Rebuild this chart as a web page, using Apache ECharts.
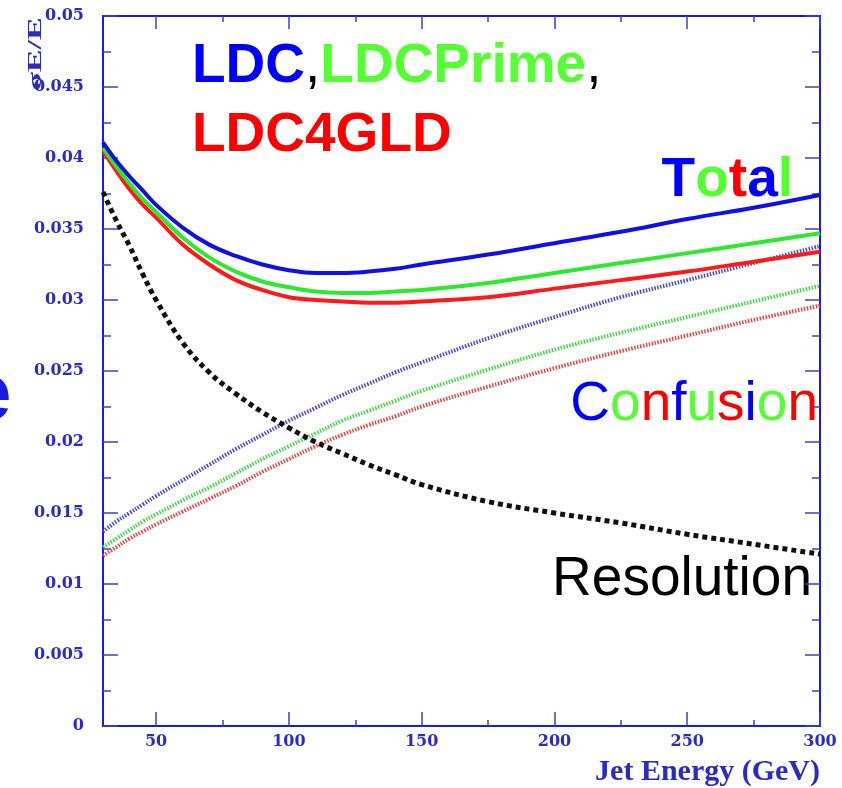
<!DOCTYPE html>
<html>
<head>
<meta charset="utf-8">
<script src="https://cdn.jsdelivr.net/npm/echarts@6/dist/echarts.min.js"></script>
<style>
  html, body { margin: 0; padding: 0; background: #ffffff; }
  #chart { width: 842px; height: 788px; }
</style>
</head>
<body>
<div id="chart"></div>
<script>
// Jet energy grid (GeV)
const energies = [30, 35, 40, 45, 50, 60, 70, 80, 90, 100, 110, 120, 130, 140, 150, 175, 200, 225, 250, 275, 300];

// Total jet energy resolution sigma_E/E for the three detector models
const totalLDC      = [0.0411, 0.0398, 0.0387, 0.0377, 0.0367, 0.0351, 0.0339, 0.0331, 0.0325, 0.0321, 0.0319, 0.0319, 0.0320, 0.0322, 0.0325, 0.0332, 0.0340, 0.0348, 0.0357, 0.0365, 0.0374];
const totalLDCPrime = [0.0407, 0.0394, 0.0382, 0.0371, 0.0362, 0.0344, 0.0330, 0.0320, 0.0313, 0.0309, 0.0306, 0.0305, 0.0305, 0.0306, 0.0307, 0.0312, 0.0319, 0.0326, 0.0333, 0.0340, 0.0347];
const totalLDC4GLD  = [0.0405, 0.0391, 0.0378, 0.0367, 0.0358, 0.0339, 0.0325, 0.0314, 0.0307, 0.0302, 0.0300, 0.0299, 0.0298, 0.0298, 0.0299, 0.0302, 0.0308, 0.0314, 0.0320, 0.0327, 0.0334];

// Confusion term
const confLDC      = [0.0137, 0.0144, 0.0150, 0.0156, 0.0162, 0.0173, 0.0184, 0.0195, 0.0205, 0.0215, 0.0224, 0.0233, 0.0241, 0.0249, 0.0256, 0.0273, 0.0288, 0.0302, 0.0314, 0.0326, 0.0338];
const confLDCPrime = [0.0126, 0.0132, 0.0138, 0.0144, 0.0149, 0.0159, 0.0168, 0.0178, 0.0188, 0.0197, 0.0206, 0.0215, 0.0222, 0.0229, 0.0236, 0.0251, 0.0265, 0.0277, 0.0288, 0.0299, 0.0310];
const confLDC4GLD  = [0.0120, 0.0126, 0.0132, 0.0137, 0.0142, 0.0151, 0.0160, 0.0169, 0.0179, 0.0188, 0.0197, 0.0205, 0.0212, 0.0218, 0.0225, 0.0239, 0.0252, 0.0264, 0.0275, 0.0286, 0.0296];

// Intrinsic calorimeter resolution term
const resolution = [0.0376, 0.0356, 0.0338, 0.0318, 0.0300, 0.0270, 0.0249, 0.0234, 0.0221, 0.0210, 0.0200, 0.0192, 0.0184, 0.0177, 0.0170, 0.0158, 0.0150, 0.0143, 0.0135, 0.0128, 0.0121];

// Axis ticks
const xMajorTicks = [50, 100, 150, 200, 250, 300];
const xMinorTicks = [75, 125, 175, 225, 275];

const pairs = ys => energies.map((e, i) => [e, ys[i]]);

const AXIS_BLUE = '#1a1ae0';
const LABEL_BLUE = '#2a2ac8';
const TICK_COL = '#4040c0';
const LABEL_FONT = '"DejaVu Serif", serif';

function xAxisDef(pos, ticks, len, labels) {
  return {
    type: 'value', position: pos, min: 30, max: 300,
    axisLine: { show: true, onZero: false, lineStyle: { color: AXIS_BLUE, width: 2 } },
    axisTick: { show: true, inside: true, length: len, customValues: ticks, lineStyle: { color: TICK_COL, width: 1.5 } },
    axisLabel: labels ? {
      show: true, customValues: ticks, margin: 8, color: LABEL_BLUE,
      fontFamily: LABEL_FONT, fontWeight: 'bold', fontSize: 16
    } : { show: false },
    splitLine: { show: false }
  };
}

function yAxisDef(pos, labels) {
  return {
    type: 'value', position: pos, min: 0, max: 0.05, interval: 0.005,
    axisLine: { show: true, onZero: false, lineStyle: { color: AXIS_BLUE, width: 2 } },
    axisTick: { show: true, inside: true, length: 15, lineStyle: { color: TICK_COL, width: 1.5 } },
    minorTick: { show: true, splitNumber: 2, length: 8, lineStyle: { color: TICK_COL, width: 1.5 } },
    axisLabel: labels ? {
      show: true, margin: 19, color: LABEL_BLUE,
      fontFamily: LABEL_FONT, fontWeight: 'bold', fontSize: 16,
      formatter: v => v === 0 ? '0' : String(+v.toFixed(3))
    } : { show: false },
    splitLine: { show: false }
  };
}

function line(name, data, color, width, type) {
  return {
    name, type: 'line', data: pairs(data), xAxisIndex: 0, yAxisIndex: 0,
    smooth: 0.4, symbol: 'none', silent: true,
    lineStyle: { color, width, type, cap: 'butt' }
  };
}

const chart = echarts.init(document.getElementById('chart'), null, { renderer: 'canvas' });

const SANS = '"Liberation Sans", Arial, sans-serif';

chart.setOption({
  backgroundColor: '#ffffff',
  animation: false,
  grid: { left: 103, right: 22, top: 16, bottom: 62, containLabel: false },
  xAxis: [
    xAxisDef('bottom', xMajorTicks, 14, true),
    xAxisDef('bottom', xMinorTicks, 6, false),
    xAxisDef('top', xMajorTicks, 13, false),
    xAxisDef('top', xMinorTicks, 6, false)
  ],
  yAxis: [
    yAxisDef('left', true),
    yAxisDef('right', false)
  ],
  series: [
    line('Confusion LDC4GLD', confLDC4GLD, '#e04848', 4, [1.5, 1.5]),
    line('Confusion LDCPrime', confLDCPrime, '#48d448', 4, [1.5, 1.5]),
    line('Confusion LDC', confLDC, '#4646d4', 4, [1.5, 1.5]),
    line('Resolution', resolution, '#111111', 5, [5, 4]),
    line('Total LDC4GLD', totalLDC4GLD, '#ff1a1a', 4, 'solid'),
    line('Total LDCPrime', totalLDCPrime, '#2ee82e', 4, 'solid'),
    line('Total LDC', totalLDC, '#1010e6', 4, 'solid')
  ],
  graphic: [
    // y axis title
    {
      type: 'text', x: 36, y: 54, rotation: Math.PI / 2, scaleX: 1.9,
      style: { text: 'σE/E', font: 'bold 18px "Liberation Serif", serif', fill: '#2a2ac8', align: 'center', verticalAlign: 'middle' }
    },
    // x axis title
    {
      type: 'text', x: 820, y: 772,
      style: { text: 'Jet Energy (GeV)', font: 'bold 30px "Liberation Serif", serif', fill: '#2a2ac8', align: 'right', verticalAlign: 'middle' }
    },
    // detector names
    {
      type: 'text', x: 192, y: 67,
      style: {
        text: '{b|LDC}{k|,}{g|LDCPrime}{k|,}',
        font: 'bold 55px ' + SANS, align: 'left', verticalAlign: 'middle',
        rich: {
          b: { fill: '#0000ff', font: 'bold 55px ' + SANS },
          g: { fill: '#55ff33', font: 'bold 55px ' + SANS },
          k: { fill: '#000000', font: '55px ' + SANS }
        }
      }
    },
    {
      type: 'text', x: 192, y: 136,
      style: { text: 'LDC4GLD', font: 'bold 55px ' + SANS, fill: '#ff0000', align: 'left', verticalAlign: 'middle' }
    },
    {
      type: 'text', x: 793, y: 181,
      style: {
        text: '{b|T}{g|o}{r|t}{b|a}{g|l}',
        font: 'bold 55px ' + SANS, align: 'right', verticalAlign: 'middle',
        rich: {
          b: { fill: '#0000ff', font: 'bold 55px ' + SANS },
          g: { fill: '#55ff33', font: 'bold 55px ' + SANS },
          r: { fill: '#ff0000', font: 'bold 55px ' + SANS }
        }
      }
    },
    {
      type: 'text', x: 818, y: 405,
      style: {
        text: '{b|C}{g|o}{r|n}{b|f}{g|u}{r|s}{b|i}{g|o}{r|n}',
        font: '55px ' + SANS, align: 'right', verticalAlign: 'middle',
        rich: {
          b: { fill: '#0000ff', font: '55px ' + SANS },
          g: { fill: '#55ff33', font: '55px ' + SANS },
          r: { fill: '#ff0000', font: '55px ' + SANS }
        }
      }
    },
    {
      type: 'text', x: 812, y: 580,
      style: { text: 'Resolution', font: '55px ' + SANS, fill: '#000000', align: 'right', verticalAlign: 'middle' }
    },
    // slide text clipped at the left edge
    {
      type: 'text', x: -33, y: 397,
      style: { text: 'e', font: 'bold 80px ' + SANS, fill: '#1a1ae0', align: 'left', verticalAlign: 'middle' }
    }
  ]
});
</script>
</body>
</html>
